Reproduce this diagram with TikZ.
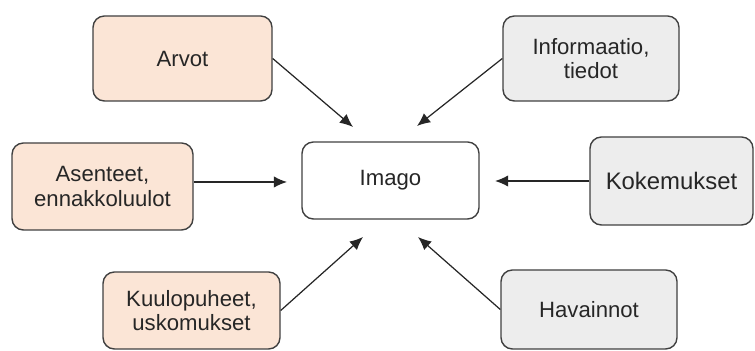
\documentclass[tikz,border=0pt]{standalone}
\usepackage{fontspec}
\setmainfont{Liberation Sans}
\usetikzlibrary{arrows.meta}
\definecolor{peach}{HTML}{FBE5D6}
\definecolor{lightgrey}{HTML}{EDEDED}
\definecolor{edge}{HTML}{404040}
\begin{document}
\begin{tikzpicture}[
  box/.style={draw=edge, line width=0.8pt, rounded corners=6.5pt, align=center,
    font=\fontsize{12.6}{13.8}\selectfont, text=black!85, inner sep=0pt},
  warm/.style={box, fill=peach},
  cool/.style={box, fill=lightgrey},
  arr/.style={-{Latex[length=7.5pt,width=6.5pt]}, line width=0.7pt, draw=black!85}]
\useasboundingbox (0,0) rectangle (15.1,7.02);

\node[warm, minimum width=3.58cm, minimum height=1.70cm] (arvot) at (3.65,5.85) {Arvot};
\node[warm, minimum width=3.62cm, minimum height=1.74cm] (asenteet) at (2.05,3.29) {Asenteet,\\ennakkoluulot};
\node[warm, minimum width=3.54cm, minimum height=1.54cm] (kuulo) at (3.83,0.81) {Kuulopuheet,\\uskomukset};

\node[box, minimum width=3.54cm, minimum height=1.54cm] (imago) at (7.81,3.41) {Imago};

\node[cool, minimum width=3.52cm, minimum height=1.70cm] (info) at (11.82,5.85) {Informaatio,\\tiedot};
\node[cool, minimum width=3.26cm, minimum height=1.76cm, font=\fontsize{13.6}{15}\selectfont] (koke) at (13.43,3.40) {Kokemukset};
\node[cool, minimum width=3.52cm, minimum height=1.58cm] (havainnot) at (11.78,0.83) {Havainnot};

% arrow tips stop short of the Imago box
\coordinate (t1) at (7.06,4.48);
\coordinate (t2) at (8.34,4.50);
\coordinate (t3) at (5.74,3.38);
\coordinate (t4) at (9.90,3.40);
\coordinate (t5) at (7.26,2.28);
\coordinate (t6) at (8.36,2.28);

\draw[arr] (arvot.east) -- (t1);
\draw[arr] (info.west) -- (t2);
\draw[arr] (asenteet.east |- t3) -- (t3);
\draw[arr] (koke.west |- t4) -- (t4);
\draw[arr] (kuulo.east) -- (t5);
\draw[arr] (havainnot.west) -- (t6);
\end{tikzpicture}
\end{document}
